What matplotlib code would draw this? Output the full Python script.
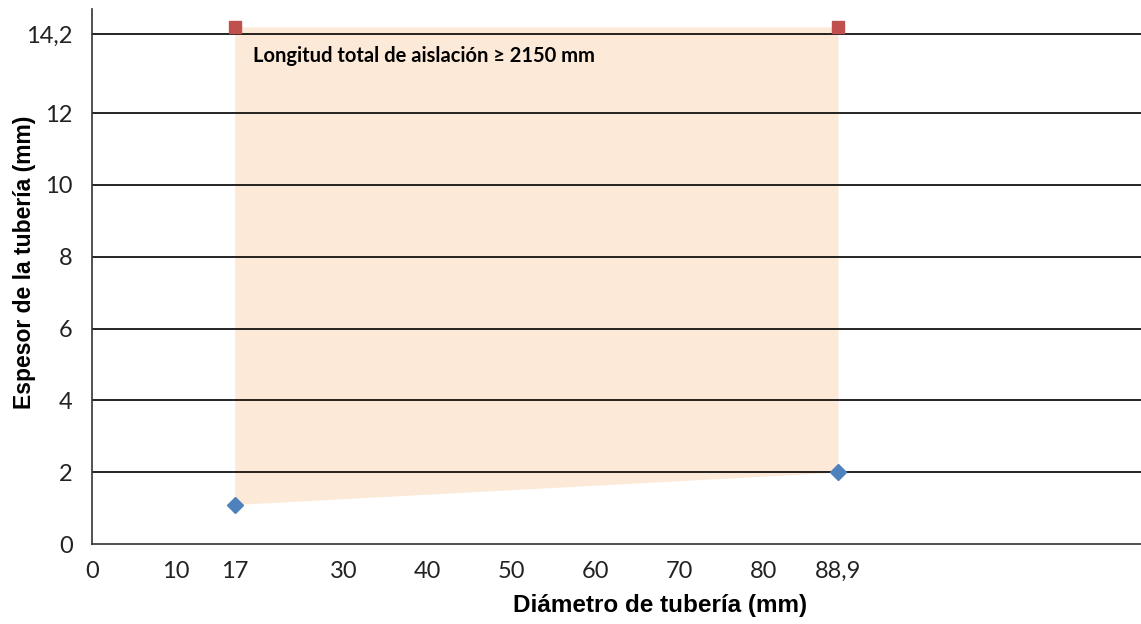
import matplotlib.pyplot as plt
import numpy as np

# datos
diametro = [17, 88.9]
espesor_min = [1.1, 2.0]
espesor_max = [14.4, 14.4]

xticks = [0, 10, 17, 30, 40, 50, 60, 70, 80, 88.9]
xtick_labels = ['0', '10', '17', '30', '40', '50', '60', '70', '80', '88,9']
yticks = [0, 2, 4, 6, 8, 10, 12, 14.2]
ytick_labels = ['0', '2', '4', '6', '8', '10', '12', '14,2']

fig = plt.figure(figsize=(11.41, 6.24), dpi=100)
ax = fig.add_axes([0.0806, 0.1282, 0.9194, 0.8574])

# zona de aislacion
ax.fill_between(diametro, espesor_min, espesor_max, color='#FDE9D7', lw=0, zorder=1)

for y in yticks[1:]:
    ax.axhline(y, color='black', lw=1.2, zorder=2)

ax.plot(diametro, espesor_min, 'D', color='#4F81BD', ms=8, zorder=3, clip_on=False)
ax.plot(diametro, espesor_max, 's', color='#C0504D', ms=8.5, zorder=3, clip_on=False)

ax.text(19.2, 13.6, 'Longitud total de aislación ≥ 2150 mm', family='Lato',
        fontweight='bold', fontsize=14.5, va='center', ha='left', zorder=4)

ax.set_xlim(0, 125)
ax.set_ylim(0, 14.9)
ax.set_xticks(xticks)
ax.set_xticklabels(xtick_labels)
ax.set_yticks(yticks)
ax.set_yticklabels(ytick_labels)
ax.tick_params(length=0, labelsize=17, colors='#222222')
ax.tick_params(axis='x', pad=12)
ax.tick_params(axis='y', pad=14)
for lab in ax.get_xticklabels() + ax.get_yticklabels():
    lab.set_family('Lato')

ax.spines['top'].set_visible(False)
ax.spines['right'].set_visible(False)
ax.spines['left'].set_color('#333333')
ax.spines['bottom'].set_color('#333333')
ax.spines['left'].set_linewidth(1.2)
ax.spines['bottom'].set_linewidth(1.2)

ax.set_xlabel('Diámetro de tubería (mm)', family='Liberation Sans', fontweight='bold',
              fontsize=17.5)
ax.set_ylabel('Espesor de la tubería (mm)', family='Liberation Sans', fontweight='bold',
              fontsize=16.5)
ax.xaxis.set_label_coords((660 - 92) / 1049, -0.093)
ax.yaxis.set_label_coords(-0.053, (544 - 262) / 535)

fig.savefig('out.png', dpi=100)
